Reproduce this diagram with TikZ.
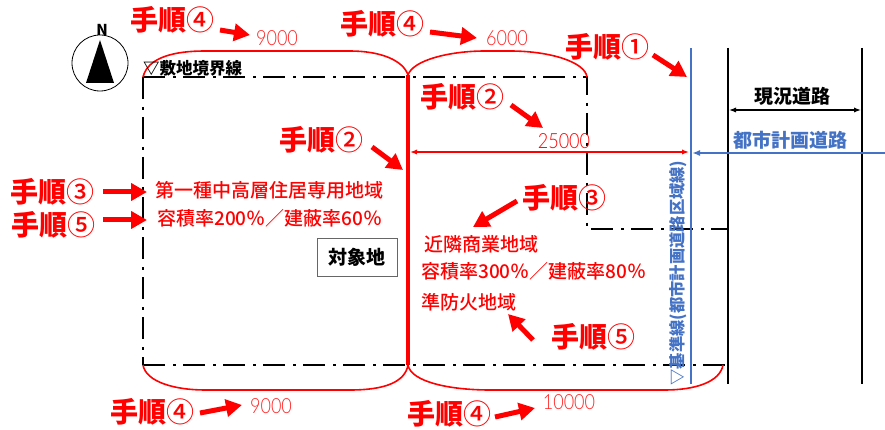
\documentclass[tikz,border=0pt]{standalone}
\usepackage{fontspec}
\setmainfont{Noto Sans CJK JP}
\newfontfamily\numfont{Lato Light}
\newfontfamily\medfont{Noto Sans CJK JP Medium}
\newfontfamily\heavyfont{Noto Sans CJK JP Black}
\usetikzlibrary{arrows.meta}
\definecolor{planred}{RGB}{255,0,0}
\definecolor{planblue}{RGB}{68,114,196}
\newcommand{\stepno}[1]{{\medfont #1}}
\tikzset{
  stepnode/.style={font=\heavyfont\fontsize{28}{28}\selectfont,text=planred,inner sep=0pt},
  stepedge/.style={draw=planred,line width=5pt,-{Triangle[length=16pt,width=17pt]}},
  zonetext/.style={font=\medfont\fontsize{19}{19}\selectfont,text=planred,anchor=west,inner sep=0pt},
  dimtext/.style={font=\numfont\fontsize{19}{19}\selectfont,text=planred!85,inner sep=0pt,xscale=.95,yscale=1.1},
  boundary/.style={line width=2.7pt,dash pattern=on 22pt off 8pt on 3pt off 7pt},
  brace/.style={draw=planred,line width=1.6pt}
}
\begin{document}
\begin{tikzpicture}[x=1pt,y=-1pt]
  \useasboundingbox (0,0) rectangle (885,430);

  \draw[boundary] (143,77) -- (587,77) -- (587,229) -- (727,229);
  \draw[boundary] (143,77) -- (143,365);
  \draw[boundary] (143,365) -- (727,365);

  \draw[brace] (143,77) .. controls (148,57) and (175,51) .. (205,51) -- (350,51)
    .. controls (380,51) and (403,60) .. (408,75)
    .. controls (413,60) and (450,51) .. (485,51) -- (510,51)
    .. controls (550,51) and (585,62) .. (587,77);
  \draw[brace] (143,365) .. controls (146,382) and (175,390) .. (205,390) -- (350,390)
    .. controls (385,390) and (405,382) .. (408,365)
    .. controls (411,382) and (450,390) .. (490,390) -- (665,390)
    .. controls (695,390) and (720,382) .. (723,365);

  \draw[line width=3.5pt,planred] (408,75) -- (408,365);
  \draw[line width=2.5pt,planblue] (691,48) -- (691,384);
  \draw[line width=2.5pt] (728,48) -- (728,384);
  \draw[line width=2.5pt] (862,48) -- (862,384);

  \draw[thick] (100,63) circle (28);
  \fill (100,40) -- (114,83) -- (86,83) -- cycle;

  \begin{scope}[every node/.style={stepnode}]
    \node (stepa) at (172,20) {手順\stepno{④}};
    \node (stepb) at (382,24) {手順\stepno{④}};
    \node (stepc) at (607,47) {手順\stepno{①}};
    \node (stepd) at (462,97) {手順\stepno{②}};
    \node (stepe) at (321,140) {手順\stepno{②}};
    \node (stepf) at (52,192) {手順\stepno{③}};
    \node (stepg) at (53,225) {手順\stepno{⑤}};
    \node (steph) at (564,198) {手順\stepno{③}};
    \node (stepi) at (593,337) {手順\stepno{⑤}};
    \node (stepj) at (152,412) {手順\stepno{④}};
    \node (stepk) at (449,414) {手順\stepno{④}};
  \end{scope}

  \begin{scope}[every node/.style={zonetext}]
    \node (zonea) at (155,190) {第一種中高層住居専用地域};
    \node (zoneb) at (157,218) {容積率200％／建蔽率60％};
    \node (zonec) at (424,244) {近隣商業地域};
    \node (zoned) at (421,271) {容積率300％／建蔽率80％};
    \node (zonee) at (421,302) {準防火地域};
  \end{scope}

  \begin{scope}[every node/.style={dimtext}]
    \node (dima) at (277,38) {9000};
    \node (dimb) at (507,38) {6000};
    \node[text=planred] (dimc) at (564,141) {25000};
    \node (dimd) at (271,406) {9000};
    \node (dime) at (569,402) {10000};
  \end{scope}

  \node[font=\bfseries\fontsize{16.5}{17}\selectfont,anchor=west,inner sep=0pt] (line) at (143,68) {▽敷地境界線};
  \node[font=\bfseries\fontsize{15}{15}\selectfont,inner sep=0pt] (north) at (102,30) {N};
  \node[draw=black!60,thick,font=\bfseries\fontsize{19}{19}\selectfont,minimum width=80pt,minimum height=38pt,inner sep=0pt] (site) at (357,257) {対象地};
  \node[font=\bfseries\fontsize{19}{19}\selectfont,inner sep=0pt] (road) at (792,96) {現況道路};
  \node[font=\bfseries\fontsize{19}{19}\selectfont,text=planblue,inner sep=0pt] (plan) at (790,140) {都市計画道路};
  \node[rotate=90,font=\bfseries\fontsize{16.3}{16}\selectfont,text=planblue,inner sep=0pt] (base) at (678,273) {▽基準線(都市計画道路区域線)};

  \coordinate (tipa) at (250,35);
  \coordinate (taila) at (220,30);
  \coordinate (tipb) at (477,38);
  \coordinate (tailb) at (430,32);
  \coordinate (tipc) at (687,77);
  \coordinate (tailc) at (653,55);
  \coordinate (tipd) at (543,128);
  \coordinate (taild) at (511,105);
  \coordinate (tipe) at (403,170);
  \coordinate (taile) at (372,147);
  \coordinate (tipf) at (147,192);
  \coordinate (tailf) at (103,192);
  \coordinate (tipg) at (147,220);
  \coordinate (tailg) at (103,220);
  \coordinate (tiph) at (473,227);
  \coordinate (tailh) at (517,201);
  \coordinate (tipi) at (508,314);
  \coordinate (taili) at (533,340);
  \coordinate (tipj) at (242,405);
  \coordinate (tailj) at (200,413);
  \coordinate (tipk) at (535,408);
  \coordinate (tailk) at (495,417);
  \coordinate (widthl) at (410,152);
  \coordinate (widthr) at (689,152);
  \coordinate (roadl) at (729,110);
  \coordinate (roadr) at (861,110);
  \coordinate (planl) at (692,153);
  \coordinate (planr) at (885,153);

  \begin{scope}[every edge/.style={stepedge}]
    \path (taila) edge (tipa);
    \path (tailb) edge (tipb);
    \path (tailc) edge (tipc);
    \path (taild) edge (tipd);
    \path (taile) edge (tipe);
    \path (tailf) edge (tipf);
    \path (tailg) edge (tipg);
    \path (tailh) edge (tiph);
    \path (taili) edge (tipi);
    \path (tailj) edge (tipj);
    \path (tailk) edge (tipk);
  \end{scope}

  \draw[line width=1.8pt,planred,{Latex[length=7pt]}-{Latex[length=7pt]}] (widthl) -- (widthr);
  \draw[line width=1.8pt,{Latex[length=7pt]}-{Latex[length=7pt]}] (roadl) -- (roadr);
  \draw[line width=2.5pt,planblue,-{Latex[length=8pt]}] (planr) -- (planl);

\end{tikzpicture}
\end{document}
